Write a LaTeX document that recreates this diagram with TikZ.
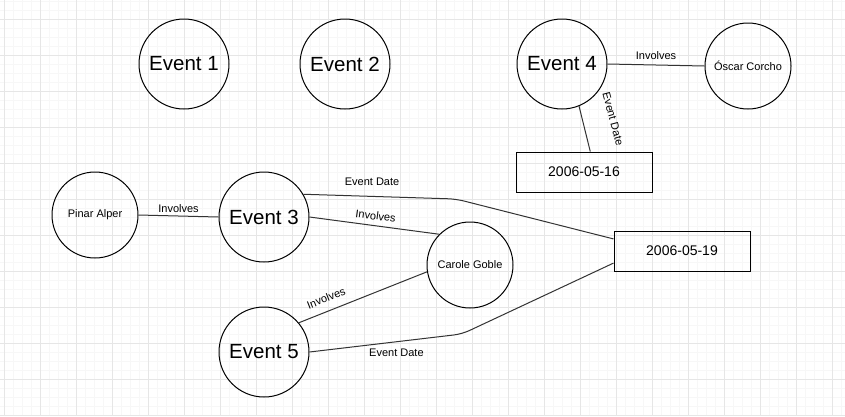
\documentclass[tikz,border=0pt]{standalone}
\usepackage{fontspec}
\setmainfont{Liberation Sans}
\usetikzlibrary{positioning, calc}
\definecolor{gridmajor}{RGB}{230,230,230}
\definecolor{gridminor}{RGB}{247,247,247}
\definecolor{edgegray}{RGB}{51,51,51}

\begin{document}
\begin{tikzpicture}[x=1pt, y=-1pt,
        eventnode/.style={circle, draw=black, line width=1pt, minimum size=90pt, inner sep=0pt, font=\fontsize{20.5}{24}\selectfont},
        personnode/.style={circle, draw=black, line width=1pt, minimum size=86pt, inner sep=0pt, font=\fontsize{11}{13}\selectfont},
        datebox/.style={rectangle, draw=black, line width=1pt, minimum width=136pt, minimum height=40pt, font=\fontsize{14}{17}\selectfont},
        link/.style={draw=edgegray, line width=1pt},
        lbl/.style={font=\fontsize{11}{13}\selectfont, text=black}]
        % Background grid
        \fill[white] (0,0) rectangle (845,416);
        \useasboundingbox (0,0) rectangle (845,416);
        \foreach \gx in {4,13,...,841} \draw[gridminor, line width=0.8pt] (\gx,0) -- (\gx,416);
        \foreach \gy in {1,10,...,415} \draw[gridminor, line width=0.8pt] (0,\gy) -- (845,\gy);
        \foreach \gx in {4,40,...,841} \draw[gridmajor, line width=0.8pt] (\gx,0) -- (\gx,416);
        \foreach \gy in {19,55,...,415} \draw[gridmajor, line width=0.8pt] (0,\gy) -- (845,\gy);

        % Top row
        \node[eventnode] (e1) at (184,64) {Event 1};
        \node[eventnode] (e2) at (345,64) {Event 2};
        \node[eventnode] (e4) at (562,64) {Event 4};
        \node[personnode] (oc) at (748,66) {Óscar Corcho};
        \node[datebox] (d16) at (584,172) {2006-05-16};

        % Lower part
        \node[personnode] (pa) at (95,215) {Pinar Alper};
        \node[eventnode] (e3) at (264,217) {Event 3};
        \node[personnode] (cg) at (470,265) {Carole Goble};
        \node[datebox] (d19) at (682,251) {2006-05-19};
        \node[eventnode] (e5) at (264,352) {Event 5};

        % Bends
        \coordinate (b3) at (456,199);
        \coordinate (b5) at (462,334);

        % Links
        \draw[link] (e4.east) -- node[lbl, above=2pt] {Involves} (oc.west);
        \draw[link] (e4.-68) -- (d16.73);
        \node[lbl, rotate=-75] at (613,119) {Event Date};
        \draw[link] (pa.east) -- node[lbl, above] {Involves} (e3.west);
        \draw[link, rounded corners=8pt] (e3.30) -- node[lbl, pos=0.45, above=7pt] {Event Date} (b3) -- (d19.170);
        \draw[link] (e3.east) -- node[lbl, sloped, above=2pt] {Involves} (cg.135);
        \draw[link] (e5.40) -- node[lbl, pos=0.25, sloped, above=5pt] {Involves} (cg.189);
        \draw[link, rounded corners=8pt] (e5.east) -- node[lbl, pos=0.57, below=3pt] {Event Date} (b5) -- (d19.190);
    \end{tikzpicture}
\end{document}
